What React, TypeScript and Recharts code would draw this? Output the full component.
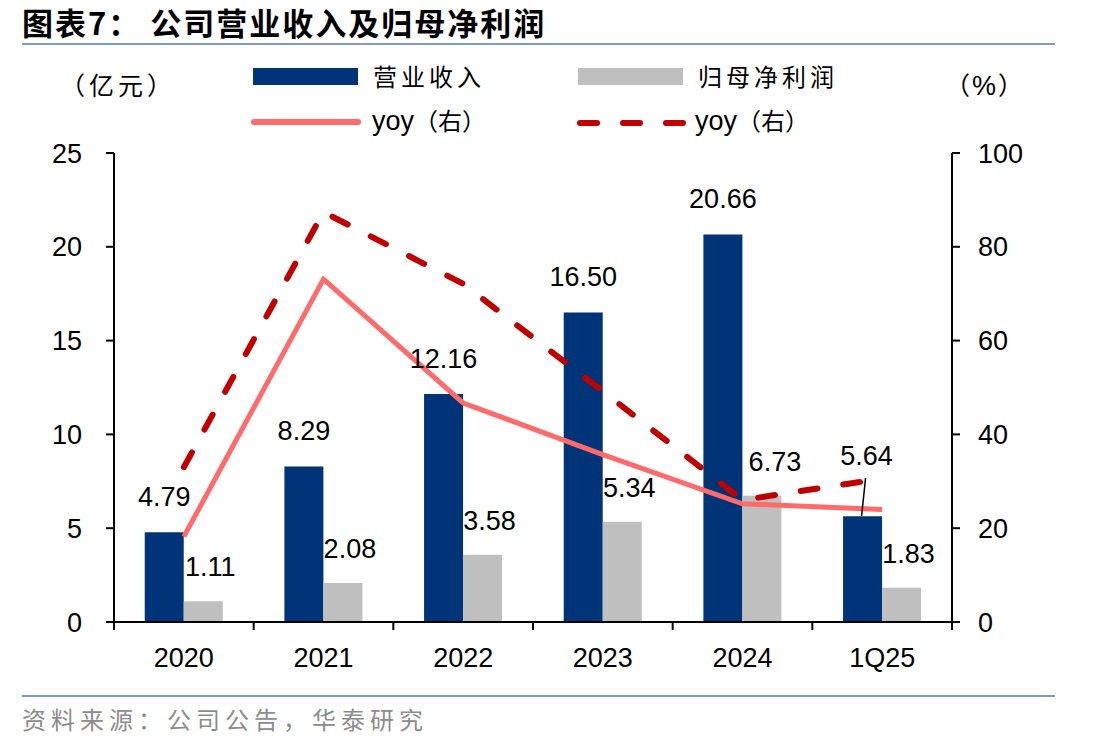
import React from 'react';
import { ComposedChart, Bar, Line, XAxis, YAxis, LabelList } from 'recharts';

const categories = ['2020', '2021', '2022', '2023', '2024', '1Q25'];
const revenue = [4.79, 8.29, 12.16, 16.5, 20.66, 5.64];
const netProfit = [1.11, 2.08, 3.58, 5.34, 6.73, 1.83];
const revenueYoy = [18.2, 73.1, 46.7, 35.7, 25.2, 24.0];
const profitYoy = [33.0, 87.4, 72.1, 49.2, 26.0, 30.6];
const leftTicks = [0, 5, 10, 15, 20, 25];
const rightTicks = [0, 20, 40, 60, 80, 100];

const data = categories.map((name, i) => ({
  name,
  revenue: revenue[i],
  netProfit: netProfit[i],
  revenueYoy: revenueYoy[i],
  profitYoy: profitYoy[i],
}));

const W = 1112;
const H = 751;
const PLOT_LEFT = 114;
const PLOT_RIGHT = 952;
const PLOT_BOTTOM = 622;
const BAND = (PLOT_RIGHT - PLOT_LEFT) / categories.length;

const NUM_FONT = '"Liberation Sans", Arial, sans-serif';
const CJK_FONT = '"Noto Sans CJK SC", "Noto Sans", sans-serif';

const NAVY = '#003478';
const GREY = '#bfbfbf';
const PINK = '#ff6a6a';
const DARK_RED = '#c00000';

// x tick: label at centre, tick marks on category borders
function XTick(props: any) {
  const { x, index, payload } = props;
  const left = x - BAND / 2;
  return (
    <g>
      <line x1={left} y1={PLOT_BOTTOM} x2={left} y2={PLOT_BOTTOM + 8} stroke="#000" strokeWidth={2} />
      {index === categories.length - 1 && (
        <line x1={x + BAND / 2} y1={PLOT_BOTTOM} x2={x + BAND / 2} y2={PLOT_BOTTOM + 8} stroke="#000" strokeWidth={2} />
      )}
      <text x={x} y={PLOT_BOTTOM + 45} textAnchor="middle" fontSize={27} fontFamily={NUM_FONT} fill="#000">
        {payload.value}
      </text>
    </g>
  );
}

function RevenueLabel(props: any) {
  const { x, y, width, value, index } = props;
  const cx = x + width / 2;
  if (index === categories.length - 1) {
    return (
      <g>
        <line x1={cx - 1} y1={y} x2={cx + 3} y2={y - 38} stroke="#000" strokeWidth={1.5} />
        <text x={cx + 4} y={y - 51} textAnchor="middle" fontSize={27} fontFamily={NUM_FONT} fill="#000">
          {Number(value).toFixed(2)}
        </text>
      </g>
    );
  }
  return (
    <text x={cx} y={y - 26} textAnchor="middle" fontSize={27} fontFamily={NUM_FONT} fill="#000">
      {Number(value).toFixed(2)}
    </text>
  );
}

function ProfitLabel(props: any) {
  const { x, y, width, value, index } = props;
  const cx = x + width / 2 + (index === 4 ? 13 : 7);
  return (
    <text x={cx} y={y - 25} textAnchor="middle" fontSize={27} fontFamily={NUM_FONT} fill="#000">
      {Number(value).toFixed(2)}
    </text>
  );
}

const cjkText: React.CSSProperties = {
  position: 'absolute',
  fontFamily: CJK_FONT,
  fontSize: 24,
  color: '#000',
  whiteSpace: 'nowrap',
  lineHeight: 1,
};

export default function App() {
  return (
    <div style={{ position: 'absolute', left: 0, top: 0, width: W, height: H, background: '#fff', overflow: 'hidden' }}>
      <div style={{ ...cjkText, left: 22, top: 6, fontSize: 31, fontWeight: 700, letterSpacing: 2 }}>
        图表7：&nbsp;公司营业收入及归母净利润
      </div>
      <div style={{ position: 'absolute', left: 22, top: 43, width: 1033, height: 2, background: '#7f9cc0' }} />

      <div style={{ ...cjkText, left: 60, top: 72, fontSize: 25, letterSpacing: 4 }}>（亿元）</div>
      <div style={{ ...cjkText, left: 945, top: 72, fontSize: 25, letterSpacing: 2 }}>
        （<span style={{ fontFamily: NUM_FONT, fontSize: 27 }}>%</span>）
      </div>

      <svg style={{ position: 'absolute', left: 0, top: 0 }} width={W} height={140}>
        <rect x={253} y={68} width={105} height={17} fill={NAVY} />
        <rect x={578} y={68} width={105} height={17} fill={GREY} />
        <line x1={254} y1={122} x2={358} y2={122} stroke={PINK} strokeWidth={6} strokeLinecap="round" />
        <line x1={580} y1={123} x2={686} y2={123} stroke={DARK_RED} strokeWidth={6} strokeLinecap="round" strokeDasharray="17 26" />
      </svg>
      <div style={{ ...cjkText, left: 373, top: 64, letterSpacing: 4 }}>营业收入</div>
      <div style={{ ...cjkText, left: 698, top: 64, letterSpacing: 4 }}>归母净利润</div>
      <div style={{ ...cjkText, left: 372, top: 108 }}>
        <span style={{ fontFamily: NUM_FONT, fontSize: 27 }}>yoy</span>（右）
      </div>
      <div style={{ ...cjkText, left: 695, top: 108 }}>
        <span style={{ fontFamily: NUM_FONT, fontSize: 27 }}>yoy</span>（右）
      </div>

      <div style={{ position: 'absolute', left: 0, top: 0 }}>
        <ComposedChart
          width={W}
          height={H}
          data={data}
          margin={{ top: 153, right: 0, bottom: 69, left: 0 }}
          barCategoryGap="22%"
          barGap={0}
        >
          <XAxis
            dataKey="name"
            height={60}
            axisLine={{ stroke: '#000', strokeWidth: 2 }}
            tickLine={false}
            tick={<XTick />}
            interval={0}
          />
          <YAxis
            yAxisId="left"
            width={114}
            domain={[0, 25]}
            ticks={leftTicks}
            axisLine={{ stroke: '#000', strokeWidth: 2 }}
            tickLine={{ stroke: '#000', strokeWidth: 2 }}
            tickSize={8}
            tickMargin={24}
            tick={{ fontSize: 27, fill: '#000', fontFamily: NUM_FONT }}
          />
          <YAxis
            yAxisId="right"
            orientation="right"
            width={160}
            domain={[0, 100]}
            ticks={rightTicks}
            axisLine={{ stroke: '#000', strokeWidth: 2 }}
            tickLine={{ stroke: '#000', strokeWidth: 2 }}
            tickSize={8}
            tickMargin={18}
            tick={{ fontSize: 27, fill: '#000', fontFamily: NUM_FONT }}
          />
          <Bar yAxisId="left" dataKey="revenue" fill={NAVY} isAnimationActive={false}>
            <LabelList dataKey="revenue" content={<RevenueLabel />} />
          </Bar>
          <Bar yAxisId="left" dataKey="netProfit" fill={GREY} isAnimationActive={false}>
            <LabelList dataKey="netProfit" content={<ProfitLabel />} />
          </Bar>
          <Line
            yAxisId="right"
            dataKey="revenueYoy"
            stroke={PINK}
            strokeWidth={5}
            dot={false}
            activeDot={false}
            isAnimationActive={false}
          />
          <Line
            yAxisId="right"
            dataKey="profitYoy"
            stroke={DARK_RED}
            strokeWidth={6}
            strokeDasharray="17 26"
            strokeLinecap="round"
            dot={false}
            activeDot={false}
            isAnimationActive={false}
          />
        </ComposedChart>
      </div>

      <div style={{ position: 'absolute', left: 22, top: 695, width: 1033, height: 2, background: '#7f9cc0' }} />
      <div style={{ ...cjkText, left: 22, top: 707, fontSize: 24, color: '#8c8c8c', letterSpacing: 5 }}>
        资料来源：公司公告，华泰研究
      </div>
    </div>
  );
}
